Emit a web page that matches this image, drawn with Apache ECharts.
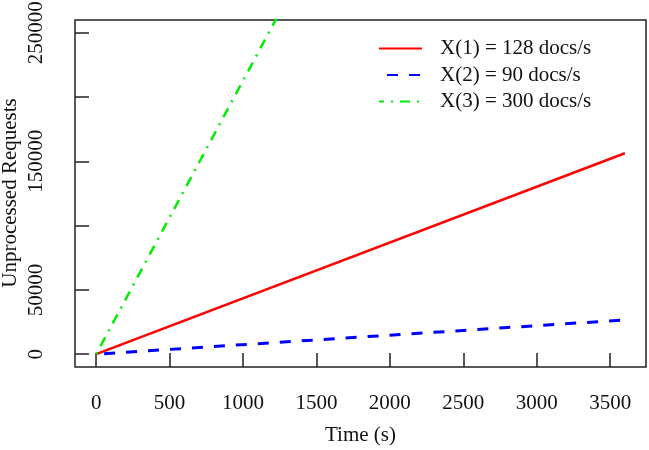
<!DOCTYPE html>
<html><head><meta charset="utf-8">
<script src="https://cdn.jsdelivr.net/npm/echarts@6/dist/echarts.min.js"></script>
<style>html,body{margin:0;padding:0;background:#fff}#c{width:649px;height:450px}</style>
</head><body><div id="c"></div>
<script>
// Data
const seriesNames = ['X(1) = 128 docs/s', 'X(2) = 90 docs/s', 'X(3) = 300 docs/s'];
const timeS = [0, 3600];
const redValues = [0, 156300];
const blueValues = [0, 26600];
const greenValues = [0, 766000];
const xTickValues = [0, 500, 1000, 1500, 2000, 2500, 3000, 3500];
const yTickValues = [0, 50000, 100000, 150000, 200000, 250000];
const yLabelValues = [0, 50000, 150000, 250000];
const xTitle = 'Time (s)';
const yTitle = 'Unprocessed Requests';

const FONT = 'Liberation Serif';
const toPairs = vals => timeS.map((t, i) => [t, vals[i]]);

const chart = echarts.init(document.getElementById('c'), null, {renderer: 'canvas'});
chart.setOption({
  animation: false,
  backgroundColor: '#fff',
  grid: {left: 75, right: 3, top: 20, bottom: 83, outerBoundsMode: 'none', containLabel: false,
         show: true, borderColor: '#222', borderWidth: 1.5, backgroundColor: 'transparent'},
  graphic: [{
    type: 'text', x: 10, y: 193, rotation: Math.PI / 2, silent: true,
    style: {text: yTitle, font: '21px "Liberation Serif"', fill: '#111', align: 'center', verticalAlign: 'middle'}
  }],
  legend: {
    orient: 'vertical', left: 373, top: 33, itemWidth: 43, itemHeight: 21, itemGap: 5.5, align: 'left',
    itemStyle: {opacity: 0},
    textStyle: {fontFamily: FONT, fontSize: 21, color: '#111', padding: [0, 0, 0, 13]},
    data: seriesNames
  },
  xAxis: {
    type: 'value', min: -144, max: 3744,
    name: xTitle, nameLocation: 'middle', nameGap: 58,
    nameTextStyle: {fontFamily: FONT, fontSize: 21, color: '#111'},
    axisLine: {show: false, onZero: false},
    splitLine: {show: false},
    axisTick: {show: true, inside: true, length: 14, lineStyle: {color: '#222', width: 1.5}, customValues: xTickValues},
    axisLabel: {fontFamily: FONT, fontSize: 21, color: '#111', margin: 26, customValues: xTickValues,
                formatter: v => String(v)}
  },
  yAxis: {
    type: 'value', min: -10000, max: 260000,
    axisLine: {show: false, onZero: false},
    splitLine: {show: false},
    axisTick: {show: true, inside: true, length: 14, lineStyle: {color: '#222', width: 1.5}, customValues: yTickValues},
    axisLabel: {fontFamily: FONT, fontSize: 21, color: '#111', margin: 28, rotate: 90, customValues: yLabelValues,
                formatter: v => String(v)}
  },
  series: [
    {name: seriesNames[0], type: 'line', symbol: 'none', data: toPairs(redValues),
     lineStyle: {color: '#ff0000', width: 2.5, type: 'solid'}, itemStyle: {color: '#ff0000'}},
    {name: seriesNames[1], type: 'line', symbol: 'none', data: toPairs(blueValues),
     lineStyle: {color: '#0000ff', width: 3, type: [11, 11], dashOffset: 14}, itemStyle: {color: '#0000ff'}},
    {name: seriesNames[2], type: 'line', symbol: 'none', data: toPairs(greenValues),
     lineStyle: {color: '#00ee00', width: 2.5, type: [2, 7, 10, 7]}, itemStyle: {color: '#00ee00'}}
  ]
});
</script>
</body></html>
